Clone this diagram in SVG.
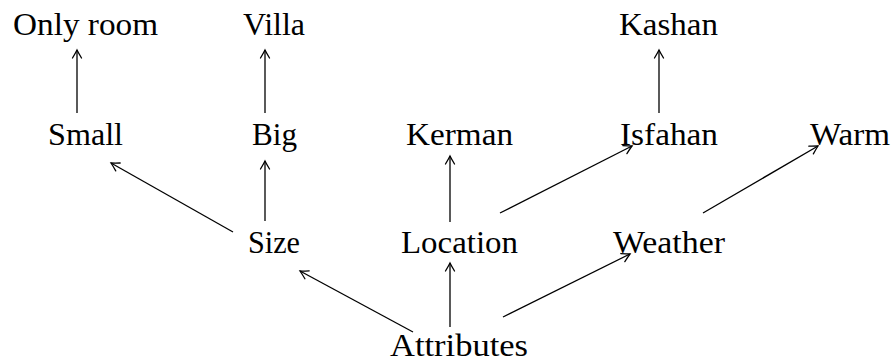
<svg xmlns="http://www.w3.org/2000/svg" width="893" height="360" viewBox="0 0 893 360">
<style>
text{font-family:'Liberation Serif','DejaVu Serif',serif;font-size:32px;fill:#000;text-anchor:middle}
.e{stroke:#000;stroke-width:1.3;fill:none;marker-end:url(#ah)}
</style>
<defs>
<marker id="ah" markerUnits="userSpaceOnUse" markerWidth="16" markerHeight="16" viewBox="-10 -8 12 16" refX="0" refY="0" orient="auto">
<path d="M-8,-4.5 Q-3,-1.5 0,0 Q-3,1.5 -8,4.5" fill="none" stroke="#000" stroke-width="1.3" stroke-linecap="round"/>
</marker>
</defs>
<rect width="893" height="360" fill="#fff"/>
<g id="connectors">
<line class="e" x1="77" y1="113" x2="77" y2="50"/>
<line class="e" x1="265" y1="113" x2="265" y2="50"/>
<line class="e" x1="659" y1="113" x2="659" y2="50"/>
<line class="e" x1="265" y1="221" x2="265" y2="161"/>
<line class="e" x1="233" y1="232" x2="111" y2="163"/>
<line class="e" x1="450" y1="222" x2="450" y2="156"/>
<line class="e" x1="500" y1="213" x2="632" y2="146"/>
<line class="e" x1="703" y1="213" x2="818" y2="146"/>
<line class="e" x1="413" y1="332" x2="300" y2="271"/>
<line class="e" x1="450" y1="327" x2="450" y2="263"/>
<line class="e" x1="503" y1="317" x2="630" y2="254"/>
</g>
<g id="n-onlyroom"><text x="85.5" y="35" textLength="145" lengthAdjust="spacingAndGlyphs">Only room</text></g>
<g id="n-villa"><text x="274" y="35" textLength="62" lengthAdjust="spacingAndGlyphs">Villa</text></g>
<g id="n-kashan"><text x="668.5" y="35" textLength="99" lengthAdjust="spacingAndGlyphs">Kashan</text></g>
<g id="n-small"><text x="85.5" y="145" textLength="75" lengthAdjust="spacingAndGlyphs">Small</text></g>
<g id="n-big"><text x="274.5" y="145" textLength="45" lengthAdjust="spacingAndGlyphs">Big</text></g>
<g id="n-kerman"><text x="459.5" y="145" textLength="107" lengthAdjust="spacingAndGlyphs">Kerman</text></g>
<g id="n-isfahan"><text x="669" y="145" textLength="98" lengthAdjust="spacingAndGlyphs">Isfahan</text></g>
<g id="n-warm"><text x="850" y="145" textLength="80" lengthAdjust="spacingAndGlyphs">Warm</text></g>
<g id="n-size"><text x="274" y="253" textLength="52" lengthAdjust="spacingAndGlyphs">Size</text></g>
<g id="n-location"><text x="459.5" y="253" textLength="117" lengthAdjust="spacingAndGlyphs">Location</text></g>
<g id="n-weather"><text x="669" y="253" textLength="112" lengthAdjust="spacingAndGlyphs">Weather</text></g>
<g id="n-attributes"><text x="459" y="356" textLength="138" lengthAdjust="spacingAndGlyphs">Attributes</text></g>
</svg>
